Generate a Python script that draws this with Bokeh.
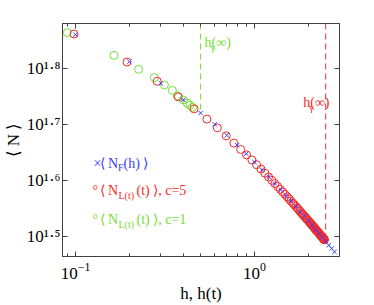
import math
from bokeh.plotting import figure
from bokeh.models import LogAxis, FixedTicker, Label, Range1d
from bokeh.embed import file_html
from bokeh.resources import INLINE

# ---------------- data ----------------
h_F = [0.1, 0.2, 0.3, 0.4, 0.5, 0.6, 0.7, 0.8, 0.9, 1.0, 1.1, 1.2, 1.3, 1.4,
       1.5, 1.6, 1.7, 1.8, 1.9, 2.0, 2.1, 2.2, 2.3, 2.4, 2.5, 2.6, 2.7, 2.8]
N_F = [72.4, 64.8, 59.3, 55.4, 52.5, 50.1, 47.9, 46.0, 44.4, 42.9, 41.6, 40.4,
       39.3, 38.3, 37.4, 36.6, 35.8, 35.0, 34.4, 33.7, 33.1, 32.5, 32.0, 31.5,
       31.0, 30.5, 30.1, 29.7]

h_c5 = [0.098, 0.194, 0.286, 0.375, 0.460, 0.542, 0.620, 0.695, 0.767, 0.837,
        0.903, 0.967, 1.028, 1.087, 1.144, 1.198, 1.250, 1.300, 1.348, 1.394,
        1.439, 1.481, 1.522, 1.561, 1.599, 1.635, 1.669, 1.703, 1.734, 1.765,
        1.794, 1.823, 1.850, 1.876, 1.901, 1.925, 1.948, 1.970, 1.991, 2.011,
        2.031, 2.050, 2.068, 2.085, 2.102, 2.118, 2.133, 2.148, 2.162, 2.175,
        2.188, 2.201, 2.213, 2.224, 2.235, 2.246, 2.266, 2.284, 2.301, 2.317,
        2.331, 2.344, 2.357, 2.368, 2.378, 2.388, 2.396, 2.405, 2.412, 2.419,
        2.425, 2.431, 2.436, 2.442, 2.448, 2.453, 2.458]
N_c5 = [72.6, 64.7, 59.8, 56.1, 53.4, 51.2, 49.4, 47.8, 46.4, 45.2,
        44.2, 43.3, 42.45, 41.7, 41.0, 40.38, 39.83, 39.3, 38.82, 38.37,
        37.97, 37.58, 37.22, 36.89, 36.56, 36.29, 36.02, 35.76, 35.53, 35.30,
        35.08, 34.88, 34.70, 34.52, 34.35, 34.20, 34.05, 33.91, 33.78, 33.65,
        33.53, 33.42, 33.31, 33.20, 33.10, 33.01, 32.92, 32.84, 32.76, 32.68,
        32.61, 32.53, 32.47, 32.41, 32.35, 32.29, 32.18, 32.09, 31.99, 31.91,
        31.84, 31.77, 31.70, 31.65, 31.59, 31.54, 31.50, 31.46, 31.42, 31.39,
        31.36, 31.33, 31.30, 31.27, 31.25, 31.22, 31.20]

h_c1 = [0.090, 0.164, 0.225, 0.276, 0.314, 0.348, 0.371, 0.400, 0.421, 0.436, 0.450]
N_c1 = [73.0, 66.5, 62.8, 60.7, 58.9, 57.6, 56.3, 55.4, 54.7, 54.2, 53.7]

h_inf = [0.5, 2.5]          # h_gamma(inf) for c=1 (green) and c=5 (red)
N_inf_end = [53.0, 31.1]    # where the dashed markers stop

x_major = [0.1, 1.0]
x_minor = [0.09, 0.2, 0.3, 0.4, 0.5, 0.6, 0.7, 0.8, 0.9, 2.0, 3.0]
y_exps = [1.5, 1.6, 1.7, 1.8]
y_labels = ["10\u00b9\u00b7\u2075", "10\u00b9\u00b7\u2076",
            "10\u00b9\u00b7\u2077", "10\u00b9\u00b7\u2078"]

X_RANGE = (0.0846, 2.985)
Y_RANGE = (29.13, 75.8)

BLUE = "#3a3aff"
RED = "#f62a2a"
GREEN = "#72de34"
AX = "#404040"
FONT = "Liberation Serif"

# ---------------- figure ----------------
p = figure(width=374, height=305, x_axis_type="log", y_axis_type="log",
           x_range=Range1d(*X_RANGE), y_range=Range1d(*Y_RANGE),
           output_backend="svg", toolbar_location=None,
           min_border_left=62, min_border_right=35,
           min_border_top=23, min_border_bottom=49)
p.grid.visible = False
p.outline_line_color = AX
p.background_fill_color = "white"
p.border_fill_color = "white"

y_major = [10 ** e for e in y_exps]

p.add_layout(LogAxis(), "above")
p.add_layout(LogAxis(), "right")


def style_axis(ax, ticks, minor, show):
    ax.ticker = FixedTicker(ticks=ticks, minor_ticks=minor)
    ax.major_tick_in = 5
    ax.major_tick_out = 0
    ax.minor_tick_in = 3
    ax.minor_tick_out = 0
    ax.axis_line_color = AX
    ax.major_tick_line_color = AX
    ax.minor_tick_line_color = AX
    if show:
        ax.major_label_text_font = FONT
        ax.major_label_text_font_size = "17px"
        ax.major_label_text_color = "black"
        ax.axis_label_text_font = FONT
        ax.axis_label_text_font_size = "17px"
        ax.axis_label_text_font_style = "normal"
        ax.axis_label_text_color = "black"
    else:
        ax.major_label_text_font_size = "0px"
        ax.major_label_text_color = None
        ax.major_label_standoff = 0


style_axis(p.below[0], x_major, x_minor, True)
style_axis(p.above[0], x_major, x_minor, False)
style_axis(p.left[0], y_major, [], True)
style_axis(p.right[0], y_major, [], False)

p.below[0].axis_label = "h, h(t)"
p.below[0].major_label_standoff = 6
p.below[0].axis_label_standoff = 2
p.left[0].axis_label = "\u27e8 N \u27e9"
p.left[0].major_label_standoff = 2
p.left[0].axis_label_standoff = 1
p.left[0].major_label_overrides = dict(zip(y_major, y_labels))

# dashed h_gamma(inf) markers
p.segment(x0=h_inf, y0=[Y_RANGE[1]] * 2, x1=h_inf, y1=N_inf_end,
          line_color=[GREEN, RED], line_dash="6 4", line_width=1)

p.scatter(h_c1, N_c1, marker="circle", size=8, fill_color=None,
          line_color=GREEN, line_width=1)
p.scatter(h_c5, N_c5, marker="circle", size=8, fill_color=None,
          line_color=RED, line_width=1)
p.scatter(h_F, N_F, marker="x", size=6, line_color=BLUE, line_width=1)


# ---------------- texts ----------------
def lab(x, y, text, dx=0, dy=0, size=14, color="black", align="left",
        baseline="alphabetic", angle=0.0):
    p.add_layout(Label(x=x, y=y, x_units="data", y_units="data",
                       x_offset=dx, y_offset=dy, text=text,
                       text_font=FONT, text_font_size=f"{size}px",
                       text_color=color, text_align=align,
                       text_baseline=baseline, angle=angle))


x0, y0 = X_RANGE[0], Y_RANGE[0]

# h_gamma(inf) annotations
for hx, col, dx, dy in zip(h_inf, [GREEN, RED], [4, -22.5], [-19, -79]):
    lab(hx, Y_RANGE[1], "h", dx=dx, dy=dy, color=col)
    lab(hx, Y_RANGE[1], "(\u221e)", dx=dx + 7, dy=dy, color=col)
    lab(hx, Y_RANGE[1], "\u03b3", dx=dx + 6, dy=dy - 5, size=10, color=col)


# legend-like text block (offsets from frame bottom-left)
def leg(px, base, text, size=14, color="black"):
    lab(x0, y0, text, dx=px - 62, dy=256 - base, size=size, color=color)


leg(93, 163, "\u00d7", color=BLUE)
leg(99, 163, "\u27e8 N", color=BLUE)
leg(117.5, 167, "F", size=10, color=BLUE)
leg(123, 163, "(h) \u27e9", color=BLUE)

for base, col, cval in [(190, RED, "5"), (218.7, GREEN, "1")]:
    leg(92, base, "\u00b0", color=col)
    leg(99, base, "\u27e8 N", color=col)
    leg(118, base + 5, "L(t)", size=10, color=col)
    leg(136, base, "(t) \u27e9, c=" + cval, color=col)

open("out.html", "w").write(file_html(p, INLINE))
